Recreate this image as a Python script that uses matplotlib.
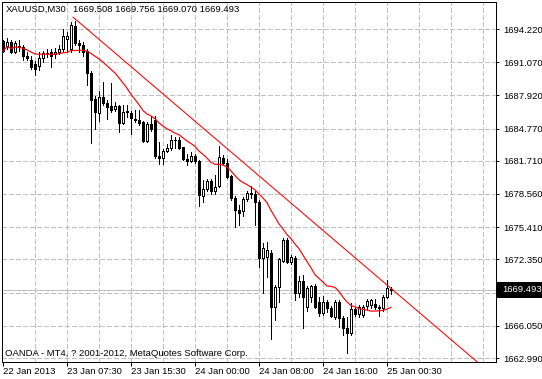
import numpy as np
import pandas as pd
import matplotlib
matplotlib.use('Agg')
import matplotlib.pyplot as plt
from matplotlib.patches import Rectangle

plt.rcParams['font.family'] = ['Liberation Sans', 'DejaVu Sans']
plt.rcParams['lines.antialiased'] = False
plt.rcParams['patch.antialiased'] = False
plt.rcParams['lines.scale_dashes'] = False

# XAUUSD M30 bars
opens = [1693.1, 1692.6, 1693.0, 1692.0, 1692.6, 1692.5, 1691.7, 1691.3, 1690.9, 1690.7,
         1691.5, 1691.9, 1692.0, 1691.8, 1692.0, 1692.3, 1693.3, 1692.3, 1694.5, 1692.9,
         1692.7, 1692.1, 1690.0, 1687.6, 1686.2, 1687.8, 1687.2, 1686.9, 1686.6, 1686.9,
         1685.3, 1686.4, 1686.2, 1685.7, 1685.6, 1685.4, 1683.6, 1685.2, 1685.6, 1682.2,
         1682.0, 1682.6, 1682.9, 1683.7, 1683.7, 1683.0, 1681.9, 1681.7, 1682.2, 1681.7,
         1678.4, 1679.0, 1679.8, 1678.8, 1679.3, 1682.0, 1681.5, 1680.3, 1678.2, 1677.0,
         1676.9, 1678.1, 1678.7, 1678.6, 1677.8, 1672.5, 1672.6, 1673.0, 1667.8, 1669.7,
         1672.2, 1674.2, 1672.1, 1672.5, 1669.2, 1670.3, 1667.8, 1668.8, 1669.8, 1668.3,
         1667.3, 1668.3, 1667.7, 1666.9, 1668.3, 1666.8, 1665.8, 1665.4, 1667.6, 1667.2,
         1667.1, 1667.9, 1668.0, 1668.1, 1667.8, 1667.7, 1668.8, 1669.508]
highs = [1693.2, 1693.4, 1693.2, 1693.1, 1693.2, 1692.7, 1692.0, 1691.7, 1691.2, 1692.0,
         1692.1, 1692.3, 1692.3, 1692.4, 1692.7, 1694.2, 1693.9, 1694.9, 1695.0, 1693.2,
         1693.0, 1692.3, 1690.2, 1687.9, 1688.3, 1689.2, 1687.5, 1689.1, 1687.3, 1687.0,
         1687.0, 1687.0, 1686.4, 1686.5, 1686.5, 1685.5, 1685.4, 1686.0, 1686.0, 1683.5,
         1682.8, 1683.3, 1684.2, 1684.0, 1684.0, 1683.0, 1682.4, 1682.5, 1682.4, 1681.8,
         1679.9, 1680.0, 1680.0, 1680.4, 1683.1, 1682.3, 1681.9, 1680.4, 1678.4, 1677.5,
         1678.3, 1678.8, 1679.3, 1678.8, 1678.0, 1673.9, 1674.0, 1673.2, 1669.9, 1672.5,
         1674.4, 1674.4, 1672.8, 1672.7, 1670.8, 1670.9, 1669.8, 1669.9, 1670.0, 1668.8,
         1668.9, 1668.5, 1667.9, 1668.5, 1668.5, 1667.0, 1666.9, 1668.2, 1667.8, 1668.0,
         1668.0, 1668.6, 1668.6, 1668.6, 1668.0, 1669.0, 1670.4, 1669.756]
lows = [1692.0, 1692.3, 1691.9, 1691.9, 1692.1, 1691.3, 1691.3, 1690.4, 1689.9, 1690.3,
        1691.1, 1691.6, 1690.6, 1691.5, 1691.8, 1692.0, 1692.0, 1692.0, 1692.7, 1692.0,
        1691.7, 1688.9, 1683.4, 1684.7, 1685.5, 1687.0, 1685.7, 1686.3, 1686.4, 1684.4,
        1685.2, 1685.9, 1684.3, 1685.4, 1685.1, 1683.5, 1683.5, 1684.5, 1682.0, 1681.4,
        1681.4, 1682.5, 1682.7, 1682.9, 1682.8, 1681.8, 1681.3, 1681.6, 1681.5, 1677.4,
        1677.8, 1678.8, 1678.6, 1678.6, 1679.2, 1681.3, 1680.1, 1678.0, 1675.4, 1675.6,
        1676.5, 1677.9, 1678.2, 1675.6, 1671.6, 1669.2, 1670.7, 1664.8, 1666.6, 1668.3,
        1672.1, 1672.0, 1671.9, 1668.5, 1668.8, 1665.8, 1667.5, 1668.3, 1667.7, 1667.0,
        1667.1, 1667.4, 1666.9, 1666.7, 1665.9, 1665.2, 1663.5, 1665.2, 1667.0, 1666.9,
        1666.9, 1667.6, 1667.7, 1667.6, 1667.0, 1667.5, 1668.7, 1669.070]
closes = [1692.1, 1693.0, 1692.0, 1692.9, 1692.5, 1691.7, 1691.5, 1690.6, 1690.4, 1691.5,
          1691.9, 1691.9, 1691.7, 1692.0, 1692.3, 1693.6, 1693.6, 1694.6, 1692.9, 1692.7,
          1692.0, 1690.0, 1687.5, 1686.3, 1687.8, 1687.2, 1686.8, 1686.5, 1686.9, 1685.3,
          1686.3, 1686.3, 1685.8, 1685.6, 1685.3, 1683.6, 1685.2, 1684.7, 1682.2, 1682.0,
          1682.6, 1682.9, 1683.7, 1683.7, 1682.9, 1681.9, 1681.7, 1682.2, 1681.7, 1678.5,
          1679.0, 1679.8, 1678.8, 1679.2, 1682.1, 1681.5, 1680.2, 1678.2, 1677.0, 1676.8,
          1678.1, 1678.7, 1678.6, 1677.8, 1672.5, 1673.4, 1673.2, 1667.8, 1669.7, 1672.4,
          1674.2, 1672.1, 1672.6, 1669.2, 1670.3, 1668.8, 1669.6, 1669.8, 1667.8, 1667.3,
          1668.3, 1667.7, 1667.0, 1668.3, 1666.8, 1665.8, 1665.4, 1667.6, 1667.2, 1667.8,
          1667.8, 1668.4, 1668.5, 1667.8, 1667.7, 1668.8, 1669.6, 1669.493]

time_labels = ["22 Jan 2013", "23 Jan 07:30", "23 Jan 15:30", "24 Jan 00:00",
               "24 Jan 08:00", "24 Jan 16:00", "25 Jan 00:30"]
label_bars = [0, 16, 32, 48, 64, 80, 96]
grid_bars = list(range(8, 124, 8))
price_ticks = [1694.22, 1691.07, 1687.92, 1684.77, 1681.71, 1678.56,
               1675.41, 1672.35, 1669.20, 1666.05, 1662.99]
price_labels = ["1694.220", "1691.070", "1687.920", "1684.770", "1681.710", "1678.560",
                "1675.410", "1672.350", "", "1666.050", "1662.990"]
last_price = 1669.493
trend_bars = [17.5, 97]
trend_prices = [1695.35, 1669.6]
ma_period = 15

px = 0.72  # one pixel in points
W, H = 542, 379
fs = 6.8

fig = plt.figure(figsize=(W / 100, H / 100), dpi=100)
fig.patch.set_facecolor('white')
ax = fig.add_axes([2 / W, 17 / H, 494 / W, 360 / H])
ax.set_xlim(-0.25, 123.25)
ax.set_ylim(1662.612, 1696.783)

grid_style = dict(color='#c0c0c0', lw=px, ls=(0, (3, 2)), zorder=0)
for b in grid_bars:
    ax.axvline(b, **grid_style)
for p in price_ticks:
    ax.axhline(p, **grid_style)

# bid line
ax.axhline(last_price, color='#c0c0c0', lw=px, zorder=1)

x = np.arange(len(closes))
o = np.array(opens)
c = np.array(closes)
ax.vlines(x, lows, highs, color='black', lw=px, zorder=2)
up = c >= o
body_lo = np.minimum(o, c)
body_h = np.abs(c - o)
ax.bar(x[up], body_h[up], bottom=body_lo[up], width=0.5, color='white',
       edgecolor='black', linewidth=px, zorder=3)
ax.bar(x[~up], body_h[~up], bottom=body_lo[~up], width=0.5, color='black',
       edgecolor='black', linewidth=px, zorder=3)

# moving average
ma = pd.Series(closes).rolling(ma_period, min_periods=1).mean()
ax.plot(x, ma, color='red', lw=0.85, antialiased=True, zorder=4)

# trend line (ray)
slope = (trend_prices[1] - trend_prices[0]) / (trend_bars[1] - trend_bars[0])
tx = np.array([trend_bars[0], 140])
ax.plot(tx, trend_prices[0] + slope * (tx - trend_bars[0]), color='red', lw=0.75,
        antialiased=True, zorder=4)

for s in ax.spines.values():
    s.set_color('black')
    s.set_linewidth(px)

ax.yaxis.tick_right()
ax.set_yticks(price_ticks)
ax.set_yticklabels(price_labels)
ax.set_xticks(label_bars)
ax.set_xticklabels(time_labels, ha='left')
ax.tick_params(axis='y', direction='out', length=3 * px, width=px, pad=3, labelsize=fs)
ax.tick_params(axis='x', direction='out', length=4 * px, width=px, pad=1, labelsize=fs)

# current price box
yt = ax.get_yaxis_transform()
box_h = 13 * (1696.783 - 1662.612) / 360
ax.add_patch(Rectangle((1.002, last_price - box_h / 2), 45 / 494, box_h, transform=yt,
                       facecolor='black', edgecolor='black', clip_on=False, zorder=5))
ax.text(1.012, last_price, "1669.493", transform=yt, color='white', va='center',
        ha='left', fontsize=fs, zorder=6, clip_on=False)

fig.text(6 / W, 1 - 9 / H, "XAUUSD,M30", va='center', ha='left', fontsize=fs)
fig.text(73 / W, 1 - 9 / H, "1669.508 1669.756 1669.070 1669.493", va='center',
         ha='left', fontsize=fs)
fig.text(5 / W, 1 - 353 / H, "OANDA - MT4, ? 2001-2012, MetaQuotes Software Corp.",
         va='center', ha='left', fontsize=fs)

fig.savefig('out.png', dpi=100)
